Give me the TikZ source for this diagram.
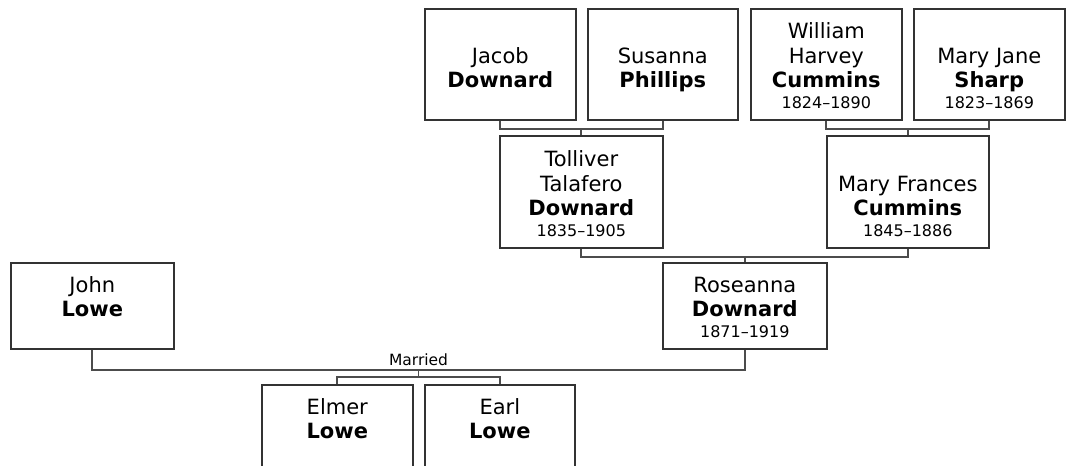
\documentclass[tikz,border=0pt]{standalone}
\usepackage{fontspec}
\setmainfont{DejaVu Sans}
\usepackage{tikz}

\tikzset{
	person/.style={draw=black!80, line width=1.6pt, inner sep=0pt, anchor=north west},
	link/.style={draw=black!70, line width=1.8pt},
	marriagelabel/.style={above, inner sep=3pt, font=\fontsize{15.5}{18}\selectfont},
}
\newcommand{\namefont}{\fontsize{21}{24.5}\selectfont}
\newcommand{\yearfont}{\fontsize{16}{20.5}\selectfont}

\begin{document}
\begin{tikzpicture}[x=1pt,y=-1pt]
	\useasboundingbox (0,0) rectangle (1066,466);
	\clip (0,0) rectangle (1066,466);
	\foreach
	\x/\y/\w/\h/\id/\given/\surname/\years
	in
	{
		424/8/151/111/jacob/{Jacob}/{Downard}/{},
		587/8/150/111/susanna/{Susanna}/{Phillips}/{},
		750/8/151/111/william/{William\\Harvey}/{Cummins}/{1824–1890},
		913/8/151/111/maryjane/{Mary Jane}/{Sharp}/{1823–1869},
		499/135/163/112/tolliver/{Tolliver\\Talafero}/{Downard}/{1835–1905},
		826/135/162/112/maryfrances/{Mary Frances}/{Cummins}/{1845–1886},
		10/262/163/86/john/{John}/{Lowe}/{},
		662/262/164/86/roseanna/{Roseanna}/{Downard}/{1871–1919},
		261/384/151/86/elmer/{Elmer}/{Lowe}/{},
		424/384/150/86/earl/{Earl}/{Lowe}/{}
	}
	{
		\node [person] (\id) at (\x,\y) {\parbox[c][\h pt][b]{\w pt}{\centering\namefont \given\\ \textbf{\surname}\par {\yearfont\mbox{}\years\par}\vspace{11.5pt}}};
	}
	% parents to child
	\draw [link] (jacob.south) -- ++(0,8) coordinate (jd) -| (susanna.south);
	\draw [link] (tolliver.north) -- (tolliver.north |- jd);
	\draw [link] (william.south) -- ++(0,8) coordinate (wc) -| (maryjane.south);
	\draw [link] (maryfrances.north) -- (maryfrances.north |- wc);
	\draw [link] (tolliver.south) -- ++(0,8) coordinate (td) -| (maryfrances.south);
	\draw [link] (roseanna.north) -- (roseanna.north |- td);
	% marriage and children
	\draw [link] (john.south) -- ++(0,20) coordinate (jl) -- node [marriagelabel] (married) {Married} coordinate (mid) (jl -| roseanna.south) -- (roseanna.south);
	\draw [link] (elmer.north) -- ++(0,-7) coordinate (el) -| (earl.north);
	\draw [link] (mid) -- (mid |- el);
\end{tikzpicture}
\end{document}
